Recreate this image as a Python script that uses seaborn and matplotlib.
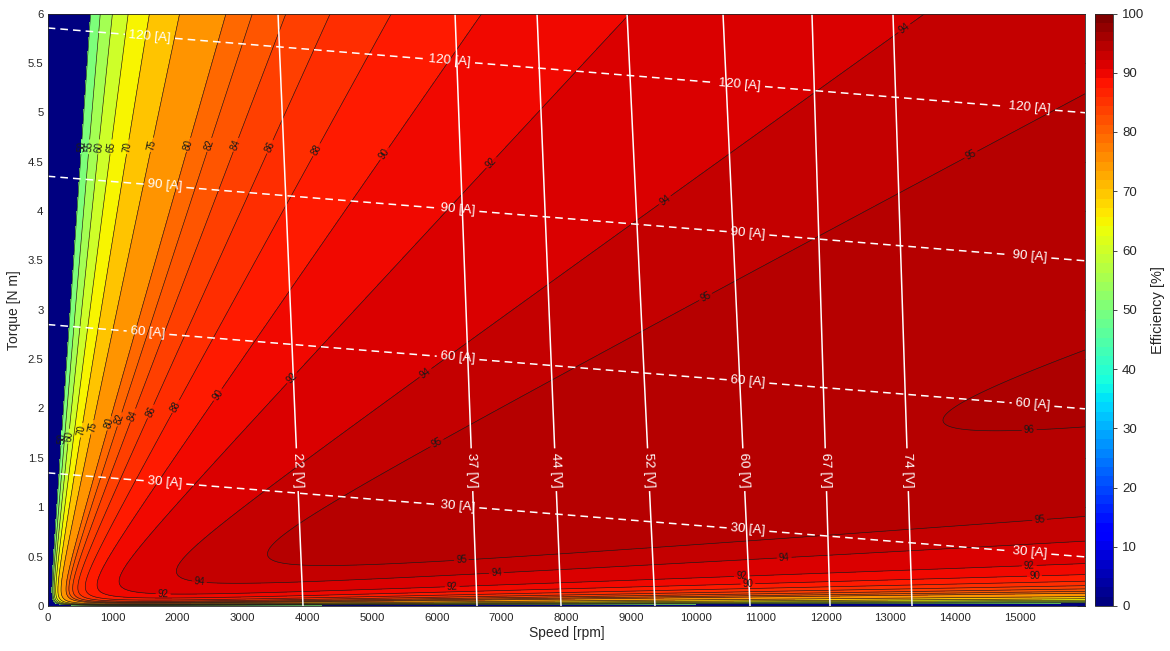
import numpy as np
import matplotlib
matplotlib.use("Agg")
import matplotlib.pyplot as plt
import seaborn as sns
from matplotlib.cm import ScalarMappable
from matplotlib.colors import Normalize

# ---- values ----
speed_max = 16000
torque_max = 6.0

# current lines [A]: torque [N m] where each line meets 0 rpm and 16000 rpm
current_levels = [30, 60, 90, 120]
current_torque_at_0 = [1.35, 2.85, 4.347, 5.857]
current_torque_at_max = [0.50, 1.992, 3.497, 4.996]

# voltage lines [V]: speed [rpm] where each line meets 0 N m and 6 N m
voltage_levels = [22, 37, 44, 52, 60, 67, 74]
voltage_speed_at_0 = [3938, 6622, 7918, 9367, 10833, 12067, 13332]
voltage_speed_at_6 = [3552, 6283, 7548, 8936, 10416, 11789, 13038]

# efficiency contour levels [%]
eff_levels = [50, 55, 60, 65, 70, 75, 80, 82, 84, 86, 88, 90, 92, 94, 95, 96]

# loss estimates that put the efficiency contours where the picture has them
winding_res = 0.0272   # ohm
iron_coef = 1.435e-5   # W / (rad/s)^2

# where the labels sit
cur_label_speeds = {120: [1578, 6205, 10678, 15152],
                    90: [1809, 6329, 10802, 15152],
                    60: [1547, 6329, 10802, 15198],
                    30: [1809, 6329, 10802, 15152]}
volt_label_torque = 1.38
eff_row_labels = [(50, 4.65), (55, 4.65), (60, 4.65), (65, 4.65), (70, 4.65),
                  (75, 4.67), (80, 4.67), (82, 4.67), (84, 4.67), (86, 4.65),
                  (88, 4.62), (90, 4.58), (92, 4.49), (94, 4.11), (94, 5.85),
                  (95, 3.13), (95, 4.57), (50, 1.70), (60, 1.72), (70, 1.78),
                  (75, 1.81), (80, 1.85), (82, 1.89), (84, 1.93), (86, 1.97),
                  (88, 2.02), (90, 2.14), (92, 2.31), (94, 2.36), (95, 1.65)]
eff_col_labels = [(94, 2350), (92, 1780), (92, 6240), (94, 6930), (95, 6390),
                  (92, 10710), (94, 11370), (95, 15310), (92, 15150), (96, 15150),
                  (90, 10800), (90, 15230)]

# ---- fields on a grid ----
speed = np.linspace(0, speed_max, 801)
torque = np.linspace(0, torque_max, 1201)
N, T = np.meshgrid(speed, torque)

kt0, c0 = np.polyfit(current_levels, current_torque_at_0, 1)
kt1, c1 = np.polyfit(current_levels, current_torque_at_max, 1)
frac = N / speed_max
current = (T - (c0 + (c1 - c0) * frac)) / (kt0 + (kt1 - kt0) * frac)

w = N * np.pi / 30
p_out = T * w
loss = winding_res * current ** 2 + iron_coef * w ** 2
eta = 100 * p_out / (p_out + loss)

v0 = np.array(voltage_speed_at_0, float)
v6 = np.array(voltage_speed_at_6, float)
vl = np.array(voltage_levels, float)
volt = np.empty_like(N)
for i, t in enumerate(torque):
    xs = v0 + (v6 - v0) * t / torque_max
    xs = np.r_[0, xs, xs[-1] + 5 * (xs[-1] - xs[-2])]
    vs = np.r_[0, vl, vl[-1] + 5 * (vl[-1] - vl[-2])]
    volt[i] = np.interp(speed, xs, vs)


def on_row(level, t):
    i = np.abs(torque - t).argmin()
    row = eta[i]
    k = row.argmax()
    return np.interp(level, row[:k + 1], speed[:k + 1]), torque[i]


def on_col(level, n):
    j = np.abs(speed - n).argmin()
    col = eta[:, j]
    k = col.argmax()
    return speed[j], np.interp(level, col[:k + 1], torque[:k + 1])


# ---- drawing ----
sns.set_theme(style="white")
plt.rcParams['font.family'] = ['Liberation Sans', 'DejaVu Sans']
jet = matplotlib.colormaps['jet']
grey = '#262626'

fig = plt.figure(figsize=(11.7, 6.51), dpi=100)
ax = fig.add_axes([47.7 / 1170, 1 - 606 / 651, (1085 - 47.7) / 1170, (606 - 13.5) / 651])

fill_levels = [-1] + eff_levels + [101]
fill_colors = [jet(v / 100) for v in [0] + eff_levels]
ax.contourf(N, T, eta, levels=fill_levels, colors=fill_colors)
cs = ax.contour(N, T, eta, levels=eff_levels, colors='k', linewidths=0.45)
eff_pos = [on_row(l, t) for l, t in eff_row_labels] + [on_col(l, n) for l, n in eff_col_labels]
ax.clabel(cs, manual=eff_pos, inline=True, inline_spacing=2, fontsize=7, fmt='%d')

ci = ax.contour(N, T, current, levels=current_levels, colors='white',
                linewidths=1.1, linestyles=[(0, (5, 3.3))])
cur_pos = []
for lvl, t0, t1 in zip(current_levels, current_torque_at_0, current_torque_at_max):
    for s in cur_label_speeds[lvl]:
        cur_pos.append((s, t0 + (t1 - t0) * s / speed_max))
ax.clabel(ci, manual=cur_pos, inline=True, inline_spacing=4, fontsize=9.5,
          fmt=lambda v: f"{v:g} [A]")

cv = ax.contour(N, T, volt, levels=voltage_levels, colors='white', linewidths=1.1)
volt_pos = [(a + (b - a) * volt_label_torque / torque_max, volt_label_torque)
            for a, b in zip(voltage_speed_at_0, voltage_speed_at_6)]
ax.clabel(cv, manual=volt_pos, inline=True, inline_spacing=4, fontsize=9.5,
          fmt=lambda v: f"{v:g} [V]")

ax.set_xlim(0, speed_max)
ax.set_ylim(0, torque_max)
ax.set_xticks(np.arange(0, 16000, 1000))
yt = np.arange(0, 6.01, 0.5)
ax.set_yticks(yt)
ax.set_yticklabels([f"{v:g}" for v in yt])
ax.tick_params(direction='in', top=True, right=True, length=6, width=0.6,
               color=grey, labelsize=8.2, labelcolor=grey)
ax.tick_params(axis='x', pad=5)
ax.tick_params(axis='y', pad=3)
for sp in ax.spines.values():
    sp.set_color(grey)
    sp.set_linewidth(0.6)
ax.set_xlabel('Speed [rpm]', fontsize=10, color=grey, labelpad=2)
ax.set_ylabel('Torque [N m]', fontsize=10, color=grey, labelpad=5)

cax = fig.add_axes([1095 / 1170, 1 - 606 / 651, 18 / 1170, (606 - 13.5) / 651])
sm = ScalarMappable(norm=Normalize(0, 100), cmap=plt.get_cmap('jet', 64))
cb = fig.colorbar(sm, cax=cax, ticks=range(0, 101, 10))
cb.outline.set_edgecolor(grey)
cb.outline.set_linewidth(0.6)
cax.tick_params(labelsize=9.5, labelcolor=grey, color=grey, direction='out', length=3, width=0.6)
cb.set_label('Efficiency [%]', fontsize=10.5, color=grey, labelpad=5)

fig.savefig('out.png', dpi=100)
